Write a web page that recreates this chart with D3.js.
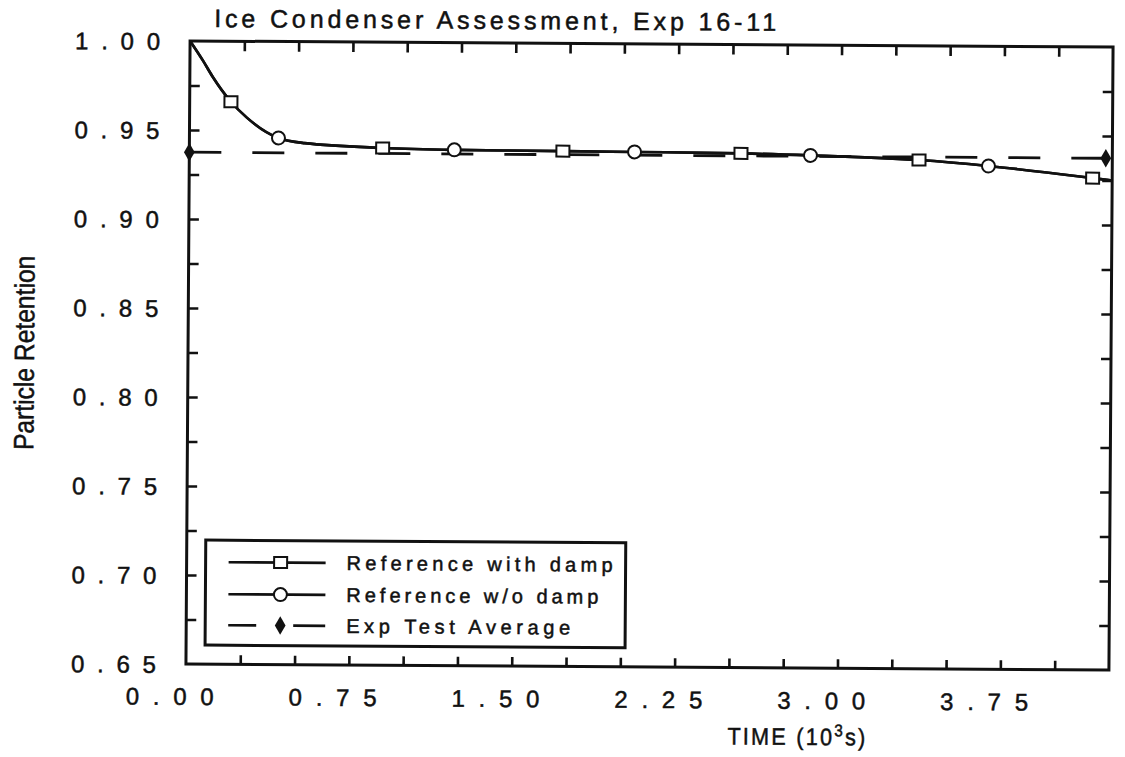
<!DOCTYPE html>
<html>
<head>
<meta charset="utf-8">
<script src="https://cdn.jsdelivr.net/npm/d3@7"></script>
<style>
  html, body { margin: 0; padding: 0; background: #fff; }
  svg { display: block; }
  text { fill: #111; stroke: #111; stroke-width: 0.5; font-family: "Liberation Sans", Arial, sans-serif; }
</style>
</head>
<body>
<svg id="chart" width="1125" height="757"></svg>
<script>
// ---- data -------------------------------------------------------------
// time in units of 10^3 s
const timeGrid = [0, 0.06, 0.105, 0.19, 0.265, 0.41, 0.53, 0.89, 1.22, 1.72, 2.05, 2.54, 2.86, 3.36, 3.68, 4.16, 4.25];
const retentionWithDamp    = [1.000, 0.989, 0.980, 0.966, 0.957, 0.9458, 0.9430, 0.9406, 0.9398, 0.9395, 0.9393, 0.9389, 0.9380, 0.9358, 0.9327, 0.9263, 0.9250];
const retentionWithoutDamp = [1.000, 0.989, 0.980, 0.966, 0.957, 0.9458, 0.9430, 0.9406, 0.9398, 0.9395, 0.9393, 0.9389, 0.9380, 0.9358, 0.9327, 0.9263, 0.9250];

// plotted symbols along each reference curve
const squareTimes  = [0.19, 0.89, 1.72, 2.54, 3.36, 4.16];
const squareValues = [0.966, 0.9406, 0.9395, 0.9389, 0.9358, 0.9263];
const circleTimes  = [0.41, 1.22, 2.05, 2.86, 3.68];
const circleValues = [0.9458, 0.9398, 0.9393, 0.9380, 0.9327];

// experimental test average
const expTimes  = [0, 4.22];
const expValues = [0.9375, 0.9375];

// axis labels
const xTickLabels = [0, 0.75, 1.5, 2.25, 3.0, 3.75];
const yTickLabels = [0.65, 0.70, 0.75, 0.80, 0.85, 0.90, 0.95, 1.00];
const legendLabels = ["Reference with damp", "Reference w/o damp", "Exp Test Average"];

// ---- layout -----------------------------------------------------------
const svg = d3.select("#chart");
const root = svg.append("g").attr("transform", "rotate(0.38,650,356)");

const x = d3.scaleLinear().domain([0, 4.25]).range([188, 1111]);
const y = d3.scaleLinear().domain([0.65, 1.00]).range([667, 44]);

const ink = "#111";

// minor tick positions
const xMinor = d3.range(1, 17).map(i => i * 0.25);
const yMinor = d3.range(1, 14).map(i => 0.65 + i * 0.025);

function styleAxis(g) {
  g.select(".domain").remove();
  g.selectAll(".tick line").attr("stroke", ink).attr("stroke-width", 2.6);
}

// inward ticks on all four sides
root.append("g").attr("transform", `translate(0,${y(0.65)})`)
  .call(d3.axisBottom(x).tickValues(xMinor).tickSizeInner(-9).tickSizeOuter(0).tickFormat(""))
  .call(styleAxis);
root.append("g").attr("transform", `translate(0,${y(1.0)})`)
  .call(d3.axisTop(x).tickValues(xMinor).tickSizeInner(-10).tickSizeOuter(0).tickFormat(""))
  .call(styleAxis);
root.append("g").attr("transform", `translate(${x(0)},0)`)
  .call(d3.axisLeft(y).tickValues(yMinor).tickSizeInner(-10).tickSizeOuter(0).tickFormat(""))
  .call(styleAxis);
root.append("g").attr("transform", `translate(${x(4.25)},0)`)
  .call(d3.axisRight(y).tickValues(yMinor).tickSizeInner(-10).tickSizeOuter(0).tickFormat(""))
  .call(styleAxis);

// frame
root.append("rect")
  .attr("x", x(0)).attr("y", y(1.0))
  .attr("width", x(4.25) - x(0)).attr("height", y(0.65) - y(1.0))
  .attr("fill", "none").attr("stroke", ink).attr("stroke-width", 3);

// tick labels
const fmt = d3.format(".2f");
root.append("g").selectAll("text").data(xTickLabels).join("text")
  .attr("x", d => x(d) - 16).attr("y", 708)
  .attr("text-anchor", "middle")
  .attr("font-size", 24)
  .attr("textLength", 88).attr("lengthAdjust", "spacing")
  .text(d => fmt(d));

root.append("g").selectAll("text").data(yTickLabels).join("text")
  .attr("x", 158).attr("y", d => y(d) + 9)
  .attr("text-anchor", "end")
  .attr("font-size", 24)
  .attr("textLength", 85).attr("lengthAdjust", "spacing")
  .text(d => fmt(d));

// title
root.append("text")
  .attr("x", 212).attr("y", 30)
  .attr("font-size", 25)
  .attr("textLength", 562).attr("lengthAdjust", "spacing")
  .text("Ice Condenser Assessment, Exp 16-11");

// axis titles (narrow lettering)
root.append("g").attr("transform", "translate(34,357) rotate(-90) scale(0.88,1)")
  .append("text").attr("text-anchor", "middle").attr("font-size", 28)
  .text("Particle Retention");

const xt = root.append("g").attr("transform", "translate(800,744) scale(0.9,1)")
  .append("text").attr("text-anchor", "middle").attr("font-size", 24)
  .attr("letter-spacing", 2.5);
xt.append("tspan").text("TIME  (10");
xt.append("tspan").attr("dy", -9).attr("font-size", 17).text("3");
xt.append("tspan").attr("dy", 9).text("s)");

// ---- series -----------------------------------------------------------
const line = d3.line().x(d => x(d[0])).y(d => y(d[1])).curve(d3.curveMonotoneX);

const withDamp = timeGrid.map((t, i) => [t, retentionWithDamp[i]]);
const withoutDamp = timeGrid.map((t, i) => [t, retentionWithoutDamp[i]]);
const expAvg = expTimes.map((t, i) => [t, expValues[i]]);

root.append("path").datum(expAvg)
  .attr("d", d3.line().x(d => x(d[0])).y(d => y(d[1])))
  .attr("fill", "none").attr("stroke", ink).attr("stroke-width", 2.8)
  .attr("stroke-dasharray", "32 31");

root.append("path").datum(withoutDamp)
  .attr("d", line).attr("fill", "none").attr("stroke", ink).attr("stroke-width", 2.6);
root.append("path").datum(withDamp)
  .attr("d", line).attr("fill", "none").attr("stroke", ink).attr("stroke-width", 2.6);

const diamond = d3.symbol().type(d3.symbolDiamond).size(100);

root.append("g").selectAll("path").data(expAvg).join("path")
  .attr("transform", d => `translate(${x(d[0])},${y(d[1])})`)
  .attr("d", diamond).attr("fill", ink);

root.append("g").selectAll("rect").data(squareTimes.map((t, i) => [t, squareValues[i]])).join("rect")
  .attr("x", d => x(d[0]) - 6.5).attr("y", d => y(d[1]) - 5.5)
  .attr("width", 13).attr("height", 11)
  .attr("fill", "#fff").attr("stroke", ink).attr("stroke-width", 2);

root.append("g").selectAll("circle").data(circleTimes.map((t, i) => [t, circleValues[i]])).join("circle")
  .attr("cx", d => x(d[0])).attr("cy", d => y(d[1])).attr("r", 6.5)
  .attr("fill", "#fff").attr("stroke", ink).attr("stroke-width", 2);

// ---- legend -----------------------------------------------------------
const legend = root.append("g");
legend.append("rect")
  .attr("x", 207).attr("y", 543).attr("width", 420).attr("height", 105)
  .attr("fill", "#fff").attr("stroke", ink).attr("stroke-width", 3);

const rowY = [565, 597, 628];
legendLabels.forEach((label, i) => {
  const yy = rowY[i];
  const seg = legend.append("line")
    .attr("x1", 230).attr("x2", 327).attr("y1", yy).attr("y2", yy)
    .attr("stroke", ink).attr("stroke-width", 2.6);
  if (i === 0) {
    legend.append("rect").attr("x", 275.5).attr("y", yy - 5.5).attr("width", 13).attr("height", 11)
      .attr("fill", "#fff").attr("stroke", ink).attr("stroke-width", 2);
  } else if (i === 1) {
    legend.append("circle").attr("cx", 282).attr("cy", yy).attr("r", 6.5)
      .attr("fill", "#fff").attr("stroke", ink).attr("stroke-width", 2);
  } else {
    seg.attr("stroke-dasharray", "28 37 32");
    legend.append("path").attr("transform", `translate(282,${yy})`).attr("d", diamond).attr("fill", ink);
  }
  legend.append("text")
    .attr("x", 348).attr("y", yy + 7)
    .attr("font-size", 20)
    .attr("textLength", label.length * 14).attr("lengthAdjust", "spacing")
    .text(label);
});
</script>
</body>
</html>
